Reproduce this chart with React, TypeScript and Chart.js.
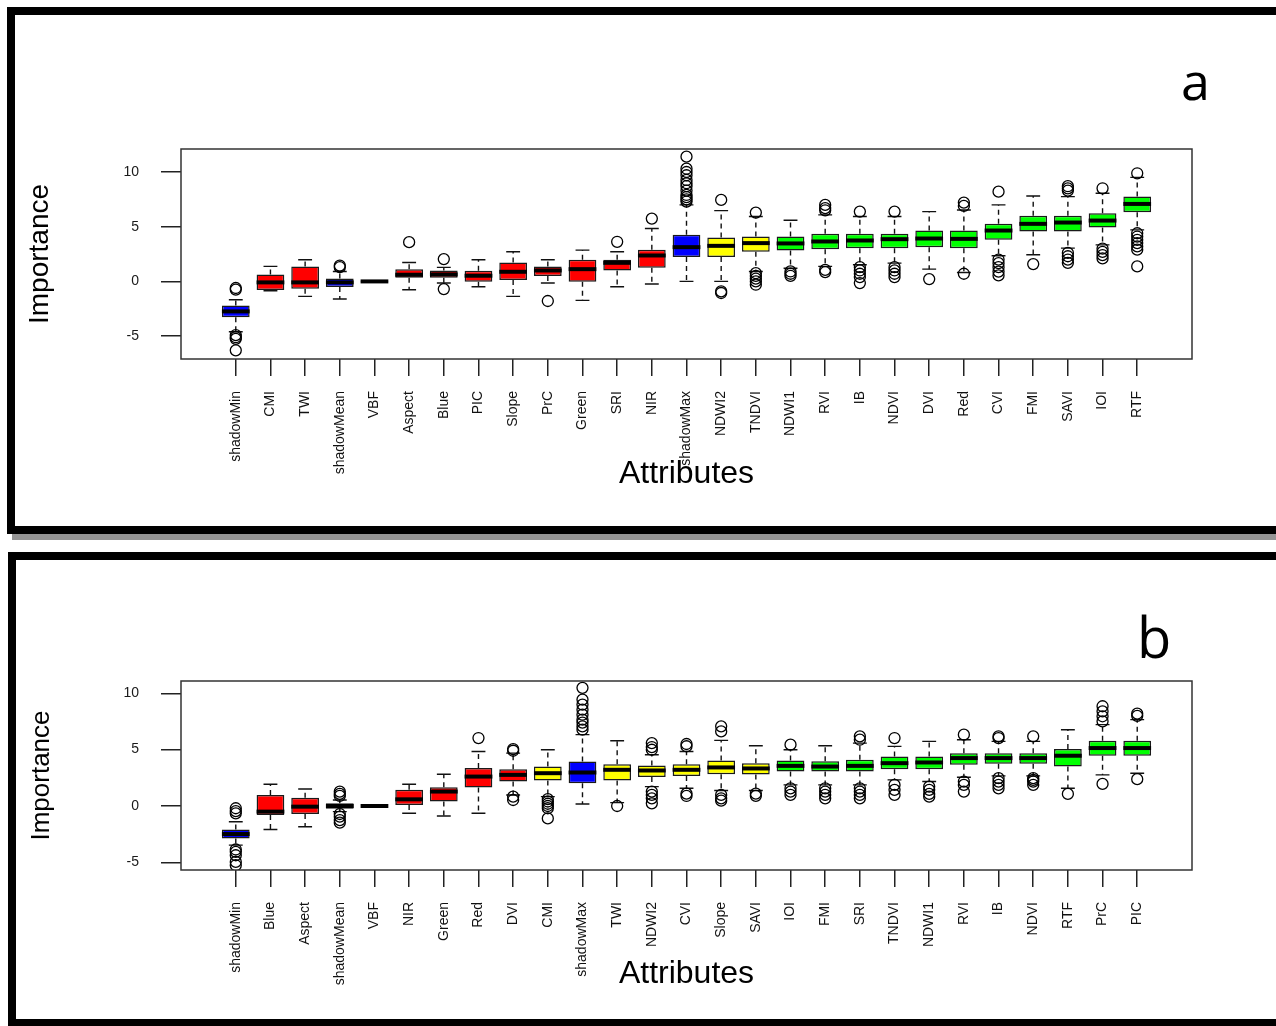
import React, { useEffect, useRef } from "react";
import { Chart, registerables } from "chart.js";

Chart.register(...registerables);

const FONT = '"Liberation Sans", Arial, Helvetica, sans-serif';
const FILL: Record<string, string> = { R: "#ff0000", B: "#0000ff", Y: "#ffff00", G: "#00ff00" };
const yTickValues = [-5, 0, 5, 10];

// ---------------- Panel a ----------------
const namesA = ["shadowMin", "CMI", "TWI", "shadowMean", "VBF", "Aspect", "Blue", "PIC", "Slope", "PrC", "Green", "SRI", "NIR", "shadowMax", "NDWI2", "TNDVI", "NDWI1", "RVI", "IB", "NDVI", "DVI", "Red", "CVI", "FMI", "SAVI", "IOI", "RTF"];
const groupA = ["B", "R", "R", "B", "R", "R", "R", "R", "R", "R", "R", "R", "R", "B", "Y", "Y", "G", "G", "G", "G", "G", "G", "G", "G", "G", "G", "G"];
const lowA = [-4.6, -0.85, -1.37, -1.61, -0.05, -0.76, -0.15, -0.49, -1.37, -0.15, -1.73, -0.49, -0.24, 0.0, 0.0, 0.91, 1.2, 1.37, 1.52, 1.67, 1.12, 0.82, 2.34, 2.43, 3.04, 3.34, 4.71];
const q1A = [-3.28, -0.79, -0.67, -0.52, -0.03, 0.33, 0.33, -0.03, 0.12, 0.49, -0.03, 1.0, 1.25, 2.22, 2.22, 2.7, 2.83, 2.95, 3.04, 3.04, 3.13, 3.04, 3.8, 4.56, 4.56, 4.92, 6.32];
const medA = [-2.74, -0.09, -0.09, -0.09, 0.0, 0.61, 0.64, 0.52, 0.88, 1.0, 1.12, 1.7, 2.37, 3.13, 3.25, 3.5, 3.47, 3.65, 3.74, 3.86, 3.92, 3.89, 4.65, 5.26, 5.38, 5.56, 7.08];
const q3A = [-2.19, 0.64, 1.37, 0.27, 0.03, 1.12, 1.0, 0.97, 1.73, 1.37, 1.98, 1.98, 2.89, 4.26, 4.01, 4.1, 4.1, 4.35, 4.35, 4.35, 4.65, 4.65, 5.26, 5.99, 5.99, 6.23, 7.75];
const highA = [-1.67, 1.37, 1.98, 0.9, 0.05, 1.73, 1.28, 1.98, 2.71, 1.98, 2.86, 2.71, 4.83, 6.99, 6.47, 5.93, 5.59, 6.08, 5.93, 5.93, 6.38, 6.53, 6.99, 7.81, 7.75, 8.05, 9.51];
const outliersA: number[][] = [
  [-0.6, -0.75, -4.9, -5.1, -5.25, -6.3],
  [],
  [],
  [1.3, 1.45],
  [],
  [3.59],
  [2.04, -0.7],
  [],
  [],
  [-1.79],
  [],
  [3.62],
  [5.74],
  [7.3, 7.5, 7.7, 7.9, 8.3, 8.7, 8.97, 9.27, 9.7, 10.0, 10.3, 11.4],
  [7.45, -0.91, -1.06],
  [6.29, 0.75, 0.5, 0.25, 0.0, -0.3],
  [0.91, 0.7, 0.5],
  [6.5, 6.7, 6.99, 1.06, 0.85],
  [6.38, 1.3, 1.0, 0.7, 0.4, -0.15],
  [6.38, 1.3, 1.0, 0.7, 0.4],
  [0.21],
  [6.9, 7.2, 0.7],
  [8.2, 2.0, 1.67, 1.3, 0.9, 0.55],
  [1.58],
  [8.3, 8.5, 8.7, 2.6, 2.3, 2.0, 1.7],
  [8.51, 3.0, 2.7, 2.4, 2.1],
  [9.88, 4.4, 4.1, 3.8, 3.5, 3.2, 2.9, 1.37],
];

// ---------------- Panel b ----------------
const namesB = ["shadowMin", "Blue", "Aspect", "shadowMean", "VBF", "NIR", "Green", "Red", "DVI", "CMI", "shadowMax", "TWI", "NDWI2", "CVI", "Slope", "SAVI", "IOI", "FMI", "SRI", "TNDVI", "NDWI1", "RVI", "IB", "NDVI", "RTF", "PrC", "PIC"];
const groupB = ["B", "R", "R", "B", "R", "R", "R", "R", "R", "Y", "B", "Y", "Y", "Y", "Y", "Y", "G", "G", "G", "G", "G", "G", "G", "G", "G", "G", "G"];
const lowB = [-3.47, -2.08, -1.84, -0.5, -0.05, -0.65, -0.89, -0.65, 0.98, 0.83, 0.18, 0.3, 1.72, 1.57, 1.37, 1.37, 1.87, 1.87, 1.87, 2.32, 2.17, 2.55, 2.67, 2.67, 1.57, 2.76, 2.91];
const q1B = [-2.88, -0.8, -0.71, -0.24, -0.03, 0.09, 0.39, 1.63, 2.17, 2.26, 2.02, 2.26, 2.58, 2.67, 2.82, 2.79, 3.06, 3.06, 3.06, 3.27, 3.27, 3.65, 3.74, 3.74, 3.5, 4.46, 4.46];
const medB = [-2.49, -0.5, -0.06, 0.0, 0.0, 0.59, 1.28, 2.61, 2.76, 2.91, 2.97, 3.21, 3.15, 3.21, 3.42, 3.33, 3.56, 3.5, 3.56, 3.8, 3.86, 4.25, 4.25, 4.25, 4.46, 5.14, 5.14];
const q3B = [-2.08, 0.98, 0.74, 0.24, 0.03, 1.43, 1.66, 3.36, 3.27, 3.5, 3.95, 3.71, 3.59, 3.71, 4.04, 3.8, 4.04, 3.98, 4.1, 4.4, 4.4, 4.69, 4.69, 4.69, 5.05, 5.79, 5.79];
const highB = [-1.4, 1.93, 1.51, 0.53, 0.05, 1.93, 2.82, 4.84, 4.69, 4.99, 6.33, 5.79, 4.54, 4.84, 5.82, 5.35, 4.99, 5.35, 5.58, 5.29, 5.73, 5.88, 5.73, 5.73, 6.77, 7.22, 7.66];
const outliersB: number[][] = [
  [-0.2, -0.45, -0.65, -3.86, -4.07, -4.37, -4.96, -5.26],
  [],
  [],
  [0.89, 1.07, 1.28, -0.71, -0.95, -1.25, -1.48],
  [],
  [],
  [],
  [6.03],
  [4.9, 5.05, 0.83, 0.53],
  [0.6, 0.4, 0.2, 0.0, -0.2, -1.1],
  [6.77, 7.07, 7.4, 7.66, 8.1, 8.55, 9.0, 9.44, 10.48],
  [0.0],
  [4.99, 5.23, 5.58, 1.28, 0.98, 0.68, 0.24],
  [5.3, 5.5, 1.1, 0.89],
  [6.62, 7.07, 0.98, 0.68, 0.47],
  [1.1, 0.9],
  [5.44, 1.57, 1.28, 0.98],
  [1.57, 1.28, 0.98, 0.68],
  [5.88, 6.18, 1.57, 1.28, 0.98, 0.68],
  [6.03, 1.87, 1.43, 0.98],
  [1.72, 1.43, 1.07, 0.83],
  [6.33, 2.17, 1.87, 1.28],
  [6.03, 6.18, 2.47, 2.17, 1.87, 1.57],
  [6.18, 2.47, 2.32, 2.17, 1.87],
  [1.07],
  [7.51, 7.96, 8.4, 8.85, 1.96],
  [8.0, 8.2, 2.38],
];

interface Panel {
  letter: string;
  names: string[];
  groups: string[];
  low: number[];
  q1: number[];
  med: number[];
  q3: number[];
  high: number[];
  outliers: number[][];
  yMin: number;
  yMax: number;
  canvasTop: number;
  canvasH: number;
  areaTop: number; // relative to canvas
  areaBottom: number; // relative to canvas
  xTitleSize: number;
  xTitlePad: number;
  yTitleSize: number;
  yTitlePad: number;
  letterX: number;
  letterY: number;
  letterSize: number;
}

const AREA_LEFT = 181;
const AREA_RIGHT = 1192;
const W = 1276;

const panelA: Panel = {
  letter: "a", names: namesA, groups: groupA, low: lowA, q1: q1A, med: medA, q3: q3A, high: highA, outliers: outliersA,
  yMin: -7.09, yMax: 12.1,
  canvasTop: 0, canvasH: 520, areaTop: 149, areaBottom: 359,
  xTitleSize: 32, xTitlePad: 26.8, yTitleSize: 28, yTitlePad: 23.6,
  letterX: 1181, letterY: 100, letterSize: 52,
};

const panelB: Panel = {
  letter: "b", names: namesB, groups: groupB, low: lowB, q1: q1B, med: medB, q3: q3B, high: highB, outliers: outliersB,
  yMin: -5.68, yMax: 11.09,
  canvasTop: 540, canvasH: 470, areaTop: 141, areaBottom: 330,
  xTitleSize: 32, xTitlePad: 16.8, yTitleSize: 26, yTitlePad: 25.9,
  letterX: 1137, letterY: 118, letterSize: 56,
};

function buildChart(canvas: HTMLCanvasElement, p: Panel) {
  const n = p.names.length;
  const ext = n * 0.04;

  const plugin = {
    id: "boxExtras_" + p.letter,
    beforeDatasetsDraw(chart: any) {
      const { ctx } = chart;
      const x = chart.scales.x;
      const y = chart.scales.y;
      const meta = chart.getDatasetMeta(0);
      ctx.save();
      ctx.strokeStyle = "#111";
      ctx.lineWidth = 1.4;
      meta.data.forEach((bar: any, i: number) => {
        const cx = x.getPixelForValue(i + 1);
        const w = bar.width;
        const cap = w / 4;
        const yq1 = y.getPixelForValue(p.q1[i]);
        const yq3 = y.getPixelForValue(p.q3[i]);
        const ylo = y.getPixelForValue(p.low[i]);
        const yhi = y.getPixelForValue(p.high[i]);
        ctx.setLineDash([5, 4]);
        ctx.beginPath();
        ctx.moveTo(cx, yq3);
        ctx.lineTo(cx, yhi);
        ctx.moveTo(cx, yq1);
        ctx.lineTo(cx, ylo);
        ctx.stroke();
        ctx.setLineDash([]);
        ctx.beginPath();
        ctx.moveTo(cx - cap, yhi);
        ctx.lineTo(cx + cap, yhi);
        ctx.moveTo(cx - cap, ylo);
        ctx.lineTo(cx + cap, ylo);
        ctx.stroke();
      });
      ctx.restore();
    },
    afterDatasetsDraw(chart: any) {
      const { ctx, chartArea } = chart;
      const x = chart.scales.x;
      const y = chart.scales.y;
      const meta = chart.getDatasetMeta(0);
      ctx.save();
      ctx.strokeStyle = "#000";
      ctx.lineWidth = 4;
      ctx.lineCap = "butt";
      meta.data.forEach((bar: any, i: number) => {
        const cx = x.getPixelForValue(i + 1);
        const w = bar.width;
        const ym = y.getPixelForValue(p.med[i]);
        ctx.beginPath();
        ctx.moveTo(cx - w / 2, ym);
        ctx.lineTo(cx + w / 2, ym);
        ctx.stroke();
      });
      ctx.lineWidth = 1.5;
      ctx.strokeStyle = "#333";
      ctx.strokeRect(chartArea.left, chartArea.top, chartArea.right - chartArea.left, chartArea.bottom - chartArea.top);
      ctx.restore();
    },
    afterDraw(chart: any) {
      const { ctx } = chart;
      ctx.save();
      ctx.fillStyle = "#000";
      ctx.font = `${p.letterSize}px "Open Sans", "Liberation Sans", sans-serif`;
      ctx.textAlign = "left";
      ctx.textBaseline = "alphabetic";
      ctx.fillText(p.letter, p.letterX, p.letterY);
      ctx.restore();
    },
  };

  const boxData = p.names.map((_, i) => ({ x: i + 1, y: [p.q1[i], p.q3[i]] }));
  const outData: { x: number; y: number }[] = [];
  p.outliers.forEach((arr, i) => arr.forEach((v) => outData.push({ x: i + 1, y: v })));

  return new Chart(canvas, {
    type: "bar",
    data: {
      datasets: [
        {
          type: "bar",
          data: boxData as any,
          backgroundColor: p.groups.map((g) => FILL[g]),
          borderColor: "#1a1a1a",
          borderWidth: 1.5,
          borderSkipped: false,
          barPercentage: 0.8,
          categoryPercentage: 1,
        } as any,
        {
          type: "scatter",
          data: outData as any,
          pointRadius: 5.5,
          pointHoverRadius: 5.5,
          pointStyle: "circle",
          borderColor: "#000",
          backgroundColor: "rgba(0,0,0,0)",
          borderWidth: 1.3,
        } as any,
      ],
    },
    options: {
      responsive: false,
      animation: false,
      events: [],
      layout: {
        padding: { left: 0, top: p.areaTop, right: W - AREA_RIGHT, bottom: 0 },
      },
      plugins: {
        legend: { display: false },
        tooltip: { enabled: false },
      },
      scales: {
        x: {
          type: "linear",
          offset: false,
          min: 0.5 - ext,
          max: n + 0.5 + ext,
          afterBuildTicks: (s: any) => {
            s.ticks = p.names.map((_, i) => ({ value: i + 1 }));
          },
          afterFit: (s: any) => {
            s.height = p.canvasH - p.areaBottom;
          },
          ticks: {
            autoSkip: false,
            minRotation: 90,
            maxRotation: 90,
            padding: 15,
            color: "#111",
            font: { family: FONT, size: 14 },
            callback: (v: any) => p.names[Math.round(Number(v)) - 1] ?? "",
          },
          grid: { offset: false, drawOnChartArea: false, drawTicks: true, tickLength: 17, color: "#222", lineWidth: 1.5 },
          border: { display: false },
          title: {
            display: true,
            text: "Attributes",
            color: "#000",
            font: { family: FONT, size: p.xTitleSize },
            padding: { top: 0, bottom: p.xTitlePad },
          },
        },
        y: {
          type: "linear",
          min: p.yMin,
          max: p.yMax,
          afterBuildTicks: (s: any) => {
            s.ticks = yTickValues.map((v) => ({ value: v }));
          },
          afterFit: (s: any) => {
            s.width = AREA_LEFT;
          },
          ticks: {
            padding: 22,
            color: "#1a1a1a",
            font: { family: FONT, size: 14 },
            callback: (v: any) => String(v),
          },
          grid: { drawOnChartArea: false, drawTicks: true, tickLength: 20, color: "#222", lineWidth: 1.5 },
          border: { display: false },
          title: {
            display: true,
            text: "Importance",
            color: "#000",
            font: { family: FONT, size: p.yTitleSize },
            padding: { top: p.yTitlePad, bottom: 0 },
          },
        },
      },
    } as any,
    plugins: [plugin as any],
  });
}

function PanelChart({ panel }: { panel: Panel }) {
  const ref = useRef<HTMLCanvasElement>(null);
  useEffect(() => {
    if (!ref.current) return;
    const chart = buildChart(ref.current, panel);
    return () => chart.destroy();
  }, [panel]);
  return (
    <canvas
      ref={ref}
      width={W}
      height={panel.canvasH}
      style={{ position: "absolute", left: 0, top: panel.canvasTop, width: W, height: panel.canvasH }}
    />
  );
}

export default function App() {
  return (
    <div
      style={{
        position: "absolute",
        left: 0,
        top: 0,
        width: 1276,
        height: 1026,
        overflow: "hidden",
        background: "#fff",
      }}
    >
      {/* frame a */}
      <div
        style={{
          position: "absolute",
          left: 7,
          top: 7,
          width: 1300,
          height: 527,
          boxSizing: "border-box",
          border: "8px solid #000",
          borderRight: "none",
        }}
      />
      <div style={{ position: "absolute", left: 12, top: 534, width: 1300, height: 6, background: "#959595" }} />
      {/* frame b */}
      <div
        style={{
          position: "absolute",
          left: 8,
          top: 552,
          width: 1300,
          height: 474,
          boxSizing: "border-box",
          borderTop: "8px solid #000",
          borderLeft: "8px solid #000",
          borderBottom: "7px solid #000",
        }}
      />
      <PanelChart panel={panelA} />
      <PanelChart panel={panelB} />
    </div>
  );
}
